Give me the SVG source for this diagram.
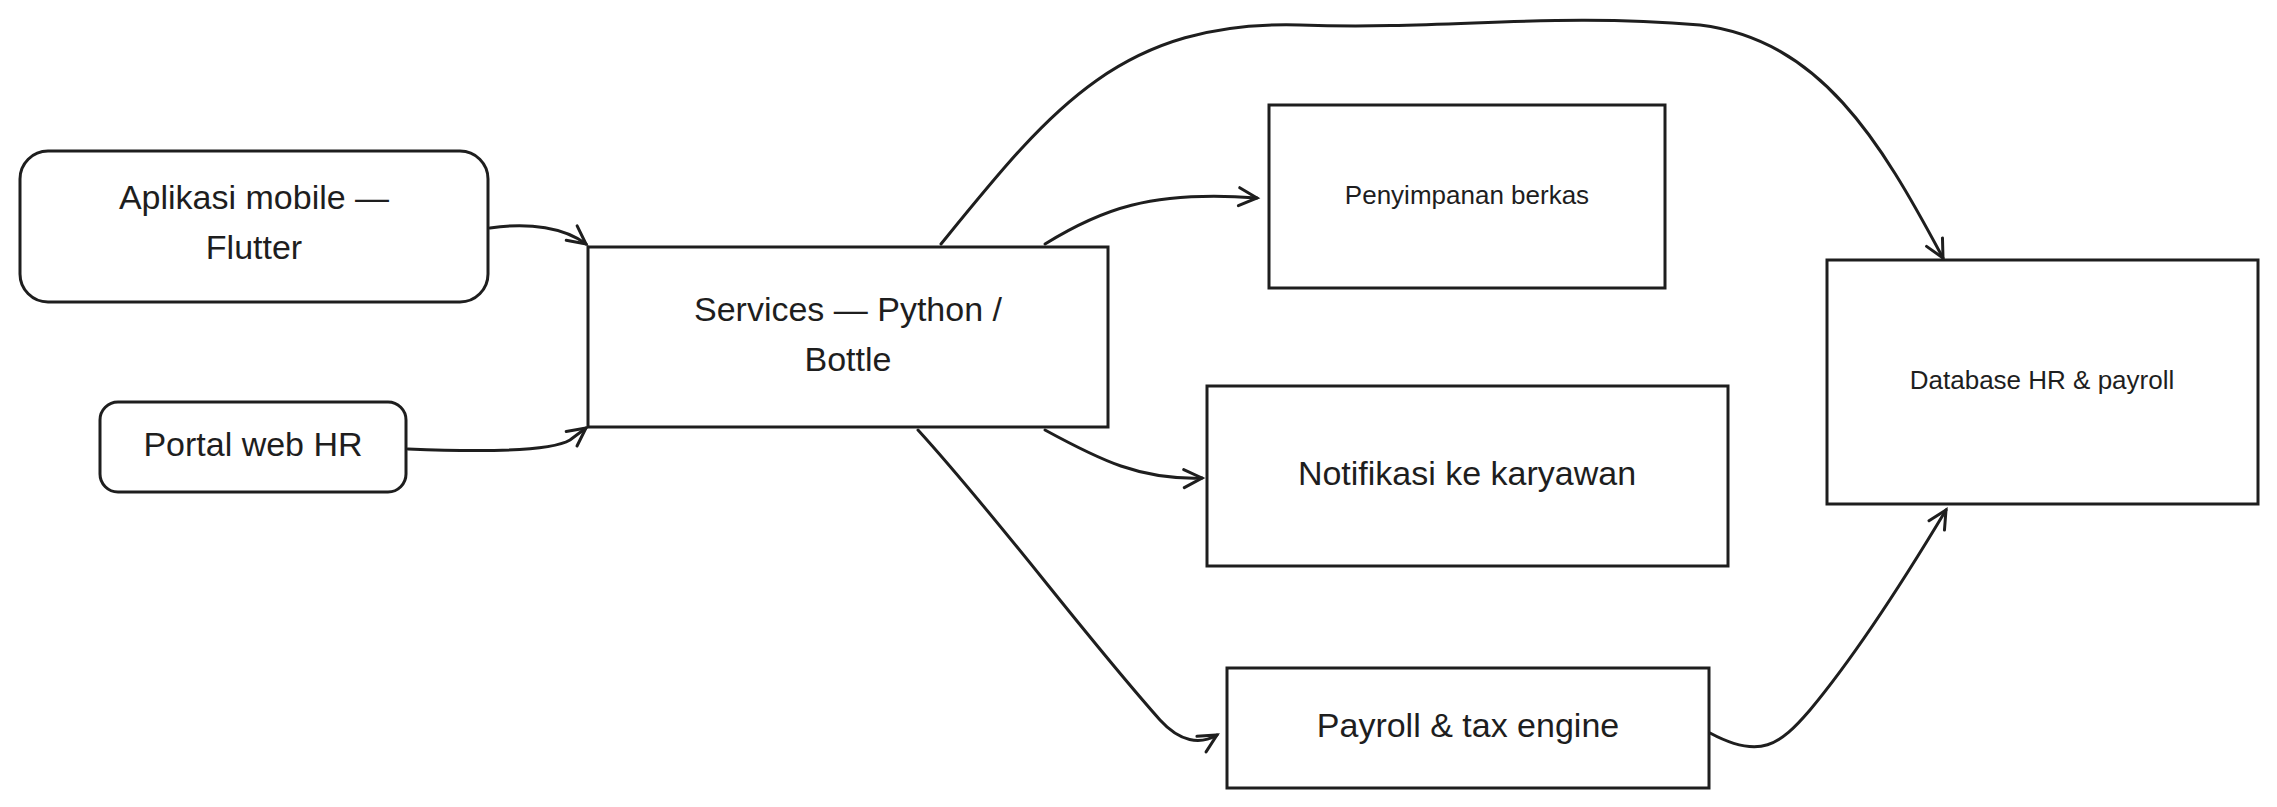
<svg xmlns="http://www.w3.org/2000/svg" width="2277" height="807" viewBox="0 0 2277 807">
<style>
.n{fill:#fff;stroke:#1e1e1e;stroke-width:3}
.t{font-family:"Liberation Sans",Arial,sans-serif;fill:#1e1e1e;text-anchor:middle;dominant-baseline:middle}
.c path{fill:none;stroke:#1e1e1e;stroke-width:3;stroke-linecap:round}
</style>
<defs>
<marker id="a" markerWidth="24" markerHeight="24" refX="20" refY="12" orient="auto" markerUnits="userSpaceOnUse">
<path d="M2,3 L20,12 L2,21" fill="none" stroke="#1e1e1e" stroke-width="3" stroke-linecap="round"/>
</marker>
</defs>
<rect width="2277" height="807" fill="#fff"/>
<g id="mobile"><rect class="n" x="20" y="151" width="468" height="151" rx="28"/><text class="t" x="254" y="200" font-size="34">Aplikasi mobile —</text><text class="t" x="254" y="250" font-size="34">Flutter</text></g>
<g id="portal"><rect class="n" x="100" y="402" width="306" height="90" rx="18"/><text class="t" x="253" y="447" font-size="34">Portal web HR</text></g>
<g id="services"><rect class="n" x="588" y="247" width="520" height="180"/><text class="t" x="848" y="312" font-size="34">Services — Python /</text><text class="t" x="848" y="362" font-size="34">Bottle</text></g>
<g id="storage"><rect class="n" x="1269" y="105" width="396" height="183"/><text class="t" x="1467" y="197" font-size="26">Penyimpanan berkas</text></g>
<g id="notif"><rect class="n" x="1207" y="386" width="521" height="180"/><text class="t" x="1467" y="476" font-size="34">Notifikasi ke karyawan</text></g>
<g id="payroll"><rect class="n" x="1227" y="668" width="482" height="120"/><text class="t" x="1468" y="728" font-size="34">Payroll &amp; tax engine</text></g>
<g id="db"><rect class="n" x="1827" y="260" width="431" height="244"/><text class="t" x="2042" y="382" font-size="26">Database HR &amp; payroll</text></g>
<g class="c">
<path d="M490,228 C530,222 565,228 586,244" marker-end="url(#a)"/>
<path d="M408,449 C480,452 550,452 570,440 L586,428" marker-end="url(#a)"/>
<path d="M1045,244 C1100,210 1150,190 1257,198" marker-end="url(#a)"/>
<path d="M941,244 C1050,110 1120,20 1300,25 C1450,30 1550,12 1700,25 C1820,40 1880,140 1943,258" marker-end="url(#a)"/>
<path d="M1045,430 C1100,460 1140,480 1202,478" marker-end="url(#a)"/>
<path d="M918,430 C1000,520 1080,630 1160,720 C1180,742 1200,745 1217,735" marker-end="url(#a)"/>
<path d="M1710,733 C1760,760 1780,745 1810,710 C1860,650 1910,570 1946,510" marker-end="url(#a)"/>
</g>
</svg>
